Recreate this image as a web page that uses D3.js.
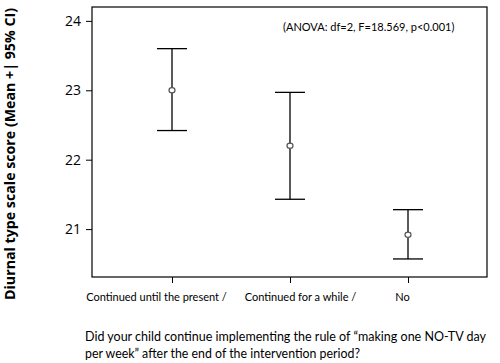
<!DOCTYPE html>
<html>
<head>
<meta charset="utf-8">
<script src="https://cdn.jsdelivr.net/npm/d3@7"></script>
<style>
  body { margin: 0; background: #fff; }
  svg text { font-family: "Lato", "Open Sans", sans-serif; }
</style>
</head>
<body>
<svg id="chart" width="500" height="363"></svg>
<script>
// groups (x categories)
var categories = ["Continued until the present /", "Continued for a while /", "No"]
// mean and 95% CI
var means = [23.0, 22.2, 20.92]
var lower = [22.42, 21.43, 20.57]
var upper = [23.6, 22.97, 21.28]
var yTicks = [21, 22, 23, 24]

var svg = d3.select("#chart")
var box = {left: 92, right: 487, top: 7, bottom: 277}

var x = d3.scalePoint()
    .domain(categories)
    .range([172, 408])

var y = d3.scaleLinear()
    .domain([20.31, 24.2])
    .range([box.bottom, box.top])

// frame
svg.append("rect")
    .attr("x", box.left)
    .attr("y", box.top)
    .attr("width", box.right - box.left)
    .attr("height", box.bottom - box.top)
    .attr("fill", "none")
    .attr("stroke", "#000")
    .attr("stroke-width", 1.2)

// y axis
var yAxis = svg.append("g")
    .attr("transform", "translate(" + box.left + ",0)")
    .call(d3.axisLeft(y).tickValues(yTicks).tickSize(6).tickPadding(5).tickFormat(d3.format("d")))
yAxis.select(".domain").remove()
yAxis.selectAll("line").attr("stroke", "#000").attr("stroke-width", 1)
yAxis.selectAll("text")
    .attr("font-size", 14)
    .attr("fill", "#000")
    .style("font-family", "Open Sans")

// x axis
var labelShift = [-16, 10, -6]
var xAxis = svg.append("g")
    .attr("transform", "translate(0," + box.bottom + ")")
    .call(d3.axisBottom(x).tickSize(6).tickPadding(10))
xAxis.select(".domain").remove()
xAxis.selectAll("line").attr("stroke", "#000").attr("stroke-width", 1)
xAxis.selectAll("text")
    .attr("font-size", 11)
    .attr("fill", "#000")
    .attr("dx", function (d, i) { return labelShift[i] })

// error bars
var bars = svg.append("g").selectAll("g")
    .data(categories)
    .join("g")

bars.append("line")
    .attr("x1", function (d) { return x(d) })
    .attr("x2", function (d) { return x(d) })
    .attr("y1", function (d, i) { return y(upper[i]) })
    .attr("y2", function (d, i) { return y(lower[i]) })
    .attr("stroke", "#000")
    .attr("stroke-width", 1.3)

bars.selectAll(".cap")
    .data(function (d, i) { return [upper[i], lower[i]].map(function (v) { return {c: d, v: v} }) })
    .join("line")
    .attr("class", "cap")
    .attr("x1", function (d) { return x(d.c) - 15 })
    .attr("x2", function (d) { return x(d.c) + 15 })
    .attr("y1", function (d) { return y(d.v) })
    .attr("y2", function (d) { return y(d.v) })
    .attr("stroke", "#000")
    .attr("stroke-width", 1.3)

bars.append("ellipse")
    .attr("cx", function (d) { return x(d) })
    .attr("cy", function (d, i) { return y(means[i]) })
    .attr("rx", 3)
    .attr("ry", 2.6)
    .attr("fill", "#fff")
    .attr("stroke", "#555")
    .attr("stroke-width", 1.2)

// anova note
svg.append("text")
    .attr("x", 283)
    .attr("y", 31)
    .attr("font-size", 11)
    .attr("fill", "#000")
    .text("(ANOVA: df=2, F=18.569, p<0.001)")

// y title
svg.append("text")
    .attr("transform", "translate(15,154) rotate(-90)")
    .attr("text-anchor", "middle")
    .attr("font-size", 14)
    .attr("font-weight", "bold")
    .attr("textLength", 292)
    .attr("lengthAdjust", "spacingAndGlyphs")
    .style("font-family", "Open Sans")
    .text("Diurnal type scale score (Mean +| 95% CI)")

// question below
var question = [
    "Did your child continue implementing the rule of \u201cmaking one NO-TV day",
    "per week\u201d after the end of the intervention period?"
]
var questionWidth = [401, 275]
svg.selectAll(".q")
    .data(question)
    .join("text")
    .attr("class", "q")
    .attr("x", 85)
    .attr("y", function (d, i) { return 341 + i * 17 })
    .attr("font-size", 12.8)
    .attr("textLength", function (d, i) { return questionWidth[i] })
    .attr("lengthAdjust", "spacingAndGlyphs")
    .attr("fill", "#000")
    .text(function (d) { return d })
</script>
</body>
</html>
